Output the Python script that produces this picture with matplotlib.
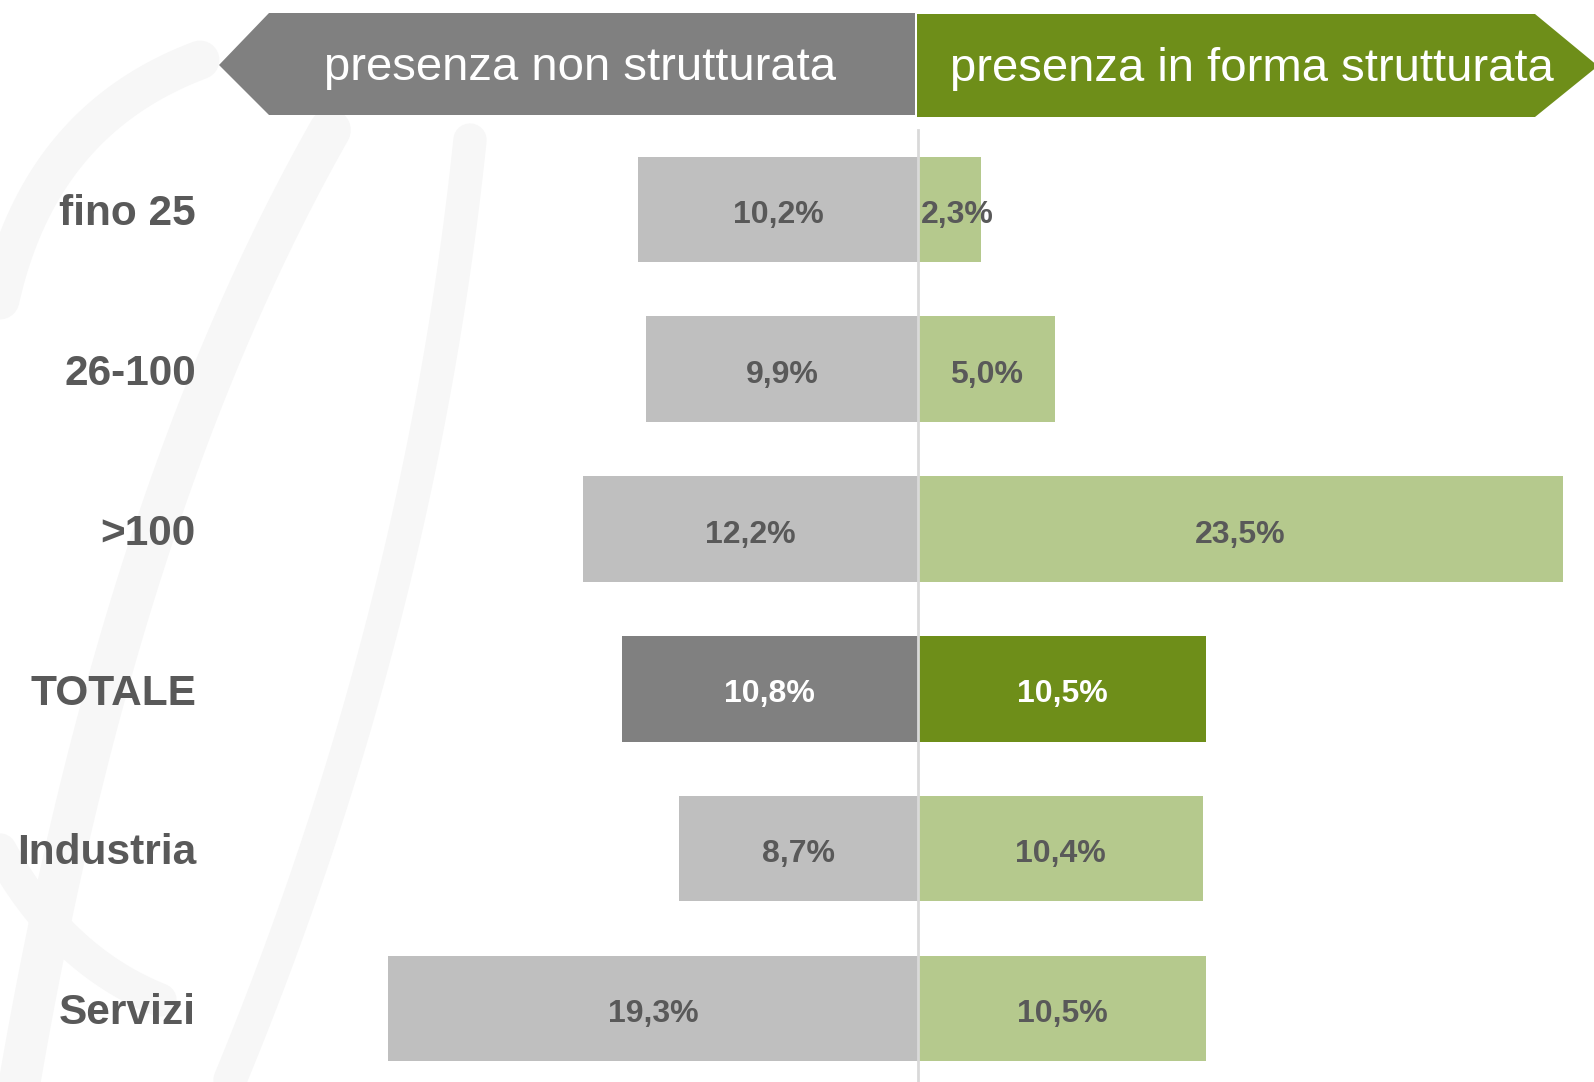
import matplotlib
matplotlib.use("Agg")
import matplotlib.pyplot as plt
from matplotlib.patches import Polygon
import numpy as np

categories = ["fino 25", "26-100", ">100", "TOTALE", "Industria", "Servizi"]
non_strutturata = [10.2, 9.9, 12.2, 10.8, 8.7, 19.3]
strutturata = [2.3, 5.0, 23.5, 10.5, 10.4, 10.5]
header_left = "presenza non strutturata"
header_right = "presenza in forma strutturata"
highlight = "TOTALE"

W, H = 1594, 1082
DPI = 100
plt.rcParams['font.family'] = ['Liberation Sans', 'DejaVu Sans']

fig = plt.figure(figsize=(W / DPI, H / DPI), dpi=DPI)
fig.patch.set_facecolor("white")

# overlay in pixel coordinates for decorations
deco = fig.add_axes([0, 0, 1, 1], zorder=0)
deco.set_xlim(0, W)
deco.set_ylim(H, 0)
deco.axis("off")

# faint watermark strokes
wm = "#F7F7F7"
t = np.linspace(0, 1, 100)
for (x0, y0, x1, y1, cx_, cy_, lw) in [
    (20, 1080, 330, 130, 120, 500, 30),
    (230, 1080, 470, 140, 420, 620, 24),
    (0, 300, 200, 60, 40, 120, 28),
    (0, 850, 160, 1000, 60, 960, 24),
]:
    xs = (1 - t) ** 2 * x0 + 2 * (1 - t) * t * cx_ + t ** 2 * x1
    ys = (1 - t) ** 2 * y0 + 2 * (1 - t) * t * cy_ + t ** 2 * y1
    deco.plot(xs, ys, color=wm, lw=lw, solid_capstyle="round", zorder=0)

# header arrows
gray_head = "#808080"
green_head = "#6E8E19"
deco.add_patch(Polygon([(219, 65), (269, 13), (915, 13), (915, 115), (269, 115)],
                       closed=True, facecolor=gray_head, edgecolor="none", zorder=2))
deco.add_patch(Polygon([(917, 14), (1535, 14), (1598, 66), (1535, 117), (917, 117)],
                       closed=True, facecolor=green_head, edgecolor="none", zorder=2))
deco.text(580, 68, header_left, color="white", fontsize=34, ha="center", va="center", zorder=3)
deco.text(1252, 69, header_right, color="white", fontsize=34, ha="center", va="center", zorder=3)

# main bar axes
px_per_unit = 27.45
cx = 918
row_h = 159.8
row0 = 209.4
ax = fig.add_axes([0, 0, 1, 1], zorder=1)
ax.patch.set_alpha(0)
ax.set_xlim(-cx / px_per_unit, (W - cx) / px_per_unit)
ax.set_ylim((H - row0) / row_h, -row0 / row_h)
ax.axis("off")

y = np.arange(len(categories))
left_colors = ["#808080" if c == highlight else "#BFBFBF" for c in categories]
right_colors = ["#6E8E19" if c == highlight else "#B5C98D" for c in categories]
bh = 0.66
ax.barh(y, [-v for v in non_strutturata], height=bh, color=left_colors, zorder=2)
ax.barh(y, strutturata, height=bh, color=right_colors, zorder=2)

# center line
ax.plot([0, 0], [(130 - row0) / row_h, (H - row0) / row_h], color="#D9D9D9", lw=2, zorder=3)

def fmt(v):
    return f"{v:.1f}%".replace(".", ",")

for i, c in enumerate(categories):
    tc = "white" if c == highlight else "#595959"
    ax.text(-non_strutturata[i] / 2, i + 0.035, fmt(non_strutturata[i]), ha="center", va="center",
            fontsize=23, fontweight="bold", color=tc, zorder=4)
    xr = max(strutturata[i] / 2, 1.45)
    ax.text(xr, i + 0.035, fmt(strutturata[i]), ha="center", va="center",
            fontsize=23, fontweight="bold", color=tc, zorder=4)
    ax.text((196 - cx) / px_per_unit, i + 0.03, c, ha="right", va="center",
            fontsize=30.5, fontweight="bold", color="#595959", zorder=4)

fig.savefig("out.png", dpi=DPI, facecolor="white")
